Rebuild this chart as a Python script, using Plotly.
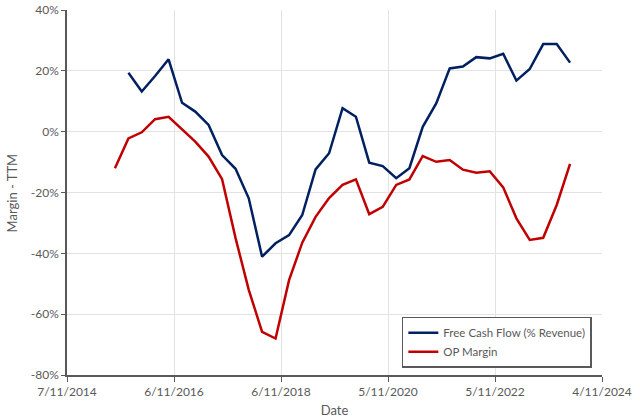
import pandas as pd
import plotly.graph_objects as go

# Quarter-end dates
op_dates = pd.date_range("2015-09-30", "2024-03-31", freq="QE")
fcf_dates = op_dates[1:]

fcf_margin = [19.4, 13.2, 18.3, 23.8, 9.5, 6.6, 2.2, -7.7, -12.2, -21.9,
              -41.1, -36.7, -34.0, -27.4, -12.4, -7.1, 7.7, 4.9, -10.2, -11.3,
              -15.3, -12.0, 1.6, 9.3, 20.8, 21.4, 24.5, 24.1, 25.6, 16.8,
              20.6, 28.8, 28.8, 22.7]
op_margin = [-12.0, -2.2, -0.2, 4.1, 4.9, 0.6, -3.3, -8.2, -15.6, -35.0,
             -52.0, -65.8, -68.0, -48.8, -36.5, -28.0, -21.8, -17.5, -15.7, -27.1,
             -24.7, -17.5, -15.7, -8.0, -9.9, -9.3, -12.5, -13.5, -13.0, -18.3,
             -28.5, -35.6, -34.9, -24.1, -10.6]

x_tick_dates = ["2014-11-07", "2016-11-06", "2018-11-06", "2020-11-05", "2022-11-05", "2024-11-04"]
x_tick_text = ["7/11/2014", "6/11/2016", "6/11/2018", "5/11/2020", "5/11/2022", "4/11/2024"]
y_ticks = [-80, -60, -40, -20, 0, 20, 40]

font_family = "Lato, 'Open Sans', sans-serif"
grey = "#595959"

fig = go.Figure()
fig.add_trace(go.Scatter(x=fcf_dates, y=fcf_margin, mode="lines",
                         name="Free Cash Flow (% Revenue)",
                         line=dict(color="#002060", width=2.5)))
fig.add_trace(go.Scatter(x=op_dates, y=op_margin, mode="lines",
                         name="OP Margin",
                         line=dict(color="#C00000", width=2.5)))

fig.update_layout(
    width=640, height=418,
    margin=dict(l=67, r=38, t=10, b=43),
    paper_bgcolor="white", plot_bgcolor="white",
    font=dict(family=font_family, size=12, color=grey),
    showlegend=True,
    legend=dict(x=0.981, y=0.02, xanchor="right", yanchor="bottom",
                bgcolor="white", bordercolor=grey, borderwidth=1.5,
                font=dict(size=11.5, color=grey),
                tracegroupgap=0, itemwidth=30),
    xaxis=dict(
        type="date",
        range=[x_tick_dates[0], x_tick_dates[-1]],
        tickmode="array", tickvals=x_tick_dates, ticktext=x_tick_text,
        showgrid=True, gridcolor="#e3e3e3", gridwidth=1,
        showline=True, linecolor=grey, linewidth=1.5,
        ticks="outside", ticklen=5, tickcolor=grey,
        title=dict(text="Date", font=dict(size=13, color=grey)),
        zeroline=False, automargin=False,
    ),
    yaxis=dict(
        range=[-80, 40],
        tickmode="array", tickvals=y_ticks, ticktext=[f"{v}%" for v in y_ticks],
        showgrid=True, gridcolor="#e3e3e3", gridwidth=1,
        showline=True, linecolor=grey, linewidth=1.5,
        ticks="outside", ticklen=4, tickcolor=grey,
        zeroline=False, automargin=False,
    ),
    annotations=[dict(text="Margin - TTM", textangle=-90, showarrow=False,
                      xref="paper", yref="paper", x=-0.103, y=0.5,
                      xanchor="center", yanchor="middle",
                      font=dict(size=13, color=grey))],
)

fig.write_html("out.html")
